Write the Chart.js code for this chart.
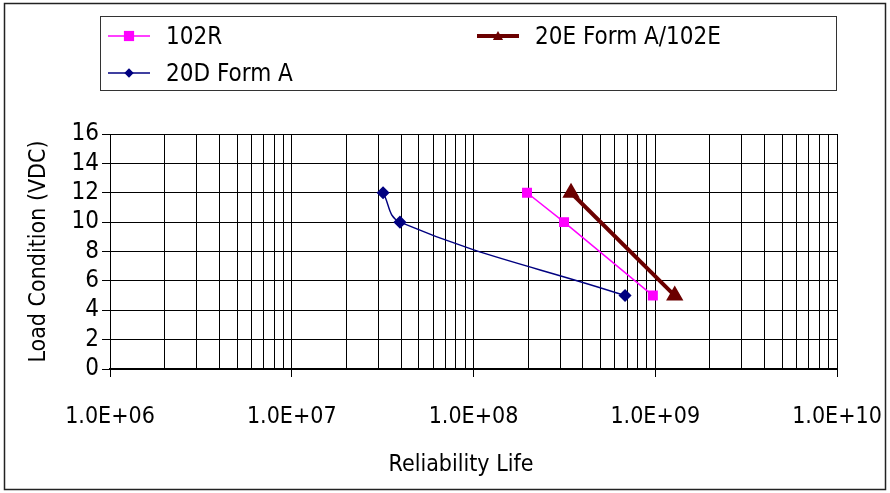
<!DOCTYPE html>
<html><head><meta charset="utf-8">
<script src="https://cdn.jsdelivr.net/npm/chart.js@4/dist/chart.umd.min.js"></script>
<style>html,body{margin:0;padding:0;background:#fff}#wrap{width:890px;height:493px;position:relative}</style>
</head><body><div id="wrap"><canvas id="c"></canvas></div>
<script>
const FONT = '"DejaVu Sans Condensed", "DejaVu Sans", sans-serif';

// ---- data ----
const seriesNames = ['102R', '20D Form A', '20E Form A/102E'];
const life102R = [1.97e8, 3.15e8, 9.7e8];
const load102R = [12, 10, 5];
const life20D = [3.18e7, 3.94e7, 6.82e8];
const load20D = [12, 10, 5];
const life20E = [3.44e8, 1.28e9];
const load20E = [12, 5];
const xMin = 1e6, xMax = 1e10;
const yMin = 0, yMax = 16, yStep = 2;
const xTitle = 'Reliability Life';
const yTitle = 'Load Condition (VDC)';

const pts = (xs, ys) => xs.map((x, i) => ({x: x, y: ys[i]}));

function fmtExp(v) {
  const e = Math.round(Math.log10(v));
  const m = v / Math.pow(10, e);
  const es = (e < 0 ? '-' : '+') + String(Math.abs(e)).padStart(2, '0');
  return m.toFixed(1) + 'E' + es;
}
function isDecade(v) {
  const l = Math.log10(v);
  return Math.abs(l - Math.round(l)) < 1e-9;
}

function drawMarker(ctx, style, x, y, r, color) {
  ctx.save();
  ctx.fillStyle = color; ctx.strokeStyle = color; ctx.lineWidth = 1;
  ctx.beginPath();
  if (style === 'rect') {
    ctx.rect(x - r, y - r, 2 * r, 2 * r);
  } else if (style === 'rectRot') {
    ctx.moveTo(x, y - r); ctx.lineTo(x + r, y); ctx.lineTo(x, y + r); ctx.lineTo(x - r, y); ctx.closePath();
  } else if (style === 'triangle') {
    ctx.moveTo(x, y - r); ctx.lineTo(x + r, y + r * 0.8); ctx.lineTo(x - r, y + r * 0.8); ctx.closePath();
  }
  ctx.fill();
  ctx.restore();
}

const legendLayout = [
  {ds: 0, x: 108, y: 36},
  {ds: 2, x: 477, y: 36},
  {ds: 1, x: 108, y: 73}
];

const framePlugin = {
  id: 'framePlugin',
  afterDraw(chart) {
    const ctx = chart.ctx;
    ctx.save();
    ctx.strokeStyle = '#222';
    ctx.lineWidth = 1.5;
    ctx.strokeRect(4.5, 3.5, 881, 486);
    ctx.strokeStyle = '#333';
    ctx.lineWidth = 1;
    ctx.strokeRect(100.5, 16.5, 736, 74);
    ctx.font = '24px ' + FONT;
    ctx.textBaseline = 'middle';
    legendLayout.forEach(item => {
      const d = chart.data.datasets[item.ds];
      ctx.strokeStyle = d.borderColor;
      ctx.lineWidth = d.borderWidth;
      ctx.beginPath();
      ctx.moveTo(item.x, item.y); ctx.lineTo(item.x + 42, item.y);
      ctx.stroke();
      drawMarker(ctx, d.pointStyle, item.x + 21, item.y, d.pointRadius * 0.85, d.pointBackgroundColor);
      ctx.fillStyle = '#000';
      ctx.fillText(d.label, item.x + 58, item.y + 2);
    });
    // x axis title
    ctx.font = '23px ' + FONT;
    ctx.textAlign = 'center';
    ctx.fillStyle = '#000';
    ctx.fillText(xTitle, 461, 465);
    ctx.restore();
  }
};

new Chart(document.getElementById('c'), {
  type: 'line',
  data: {
    datasets: [
      {label: seriesNames[0], data: pts(life102R, load102R), borderColor: '#FF00FF', backgroundColor: '#FF00FF',
       pointBackgroundColor: '#FF00FF', pointBorderColor: '#FF00FF', borderWidth: 1.5, pointStyle: 'rect', pointRadius: 6, tension: 0},
      {label: seriesNames[1], data: pts(life20D, load20D), borderColor: '#000080', backgroundColor: '#000080',
       pointBackgroundColor: '#000080', pointBorderColor: '#000080', borderWidth: 1.5, pointStyle: 'rectRot', pointRadius: 5.5, tension: 0.4},
      {label: seriesNames[2], data: pts(life20E, load20E), borderColor: '#6B0000', backgroundColor: '#6B0000',
       pointBackgroundColor: '#6B0000', pointBorderColor: '#6B0000', borderWidth: 4, pointStyle: 'triangle', pointRadius: 6, tension: 0}
    ]
  },
  options: {
    responsive: true,
    maintainAspectRatio: false,
    animation: false,
    layout: {padding: {left: 0, top: 134, right: 53, bottom: 0}},
    plugins: {legend: {display: false}, tooltip: {enabled: false}},
    scales: {
      x: {
        type: 'logarithmic',
        min: xMin, max: xMax,
        afterBuildTicks(scale) {
          const t = [];
          for (let e = Math.log10(xMin); e < Math.log10(xMax); e++) {
            for (let s = 1; s < 10; s++) t.push({value: s * Math.pow(10, e)});
          }
          t.push({value: xMax});
          scale.ticks = t;
        },
        afterFit(scale) { scale.height = 124; scale.paddingLeft = 0; scale.paddingRight = 0; },
        ticks: {
          autoSkip: false, maxRotation: 0, minRotation: 0, padding: 26,
          color: '#000', font: {family: FONT, size: 23},
          callback: (v) => isDecade(v) ? fmtExp(v) : ''
        },
        grid: {
          color: '#000', lineWidth: 1, drawTicks: true, tickLength: 8,
          tickColor: (c) => (c.tick && isDecade(c.tick.value)) ? '#000' : 'rgba(0,0,0,0)'
        },
        border: {display: true, color: '#000', width: 2},
        title: {display: false}
      },
      y: {
        type: 'linear',
        min: yMin, max: yMax,
        afterFit(scale) { scale.width = 110; scale.paddingTop = 0; scale.paddingBottom = 0; },
        ticks: {stepSize: yStep, autoSkip: false, padding: 3, color: '#000', font: {family: FONT, size: 24}},
        grid: {color: '#000', lineWidth: 1, drawTicks: true, tickLength: 8, tickColor: '#000'},
        border: {display: true, color: '#000', width: 1},
        title: {display: true, text: yTitle, color: '#000', font: {family: FONT, size: 23}, padding: {top: 25, bottom: 0}}
      }
    }
  },
  plugins: [framePlugin]
});
</script></body></html>
